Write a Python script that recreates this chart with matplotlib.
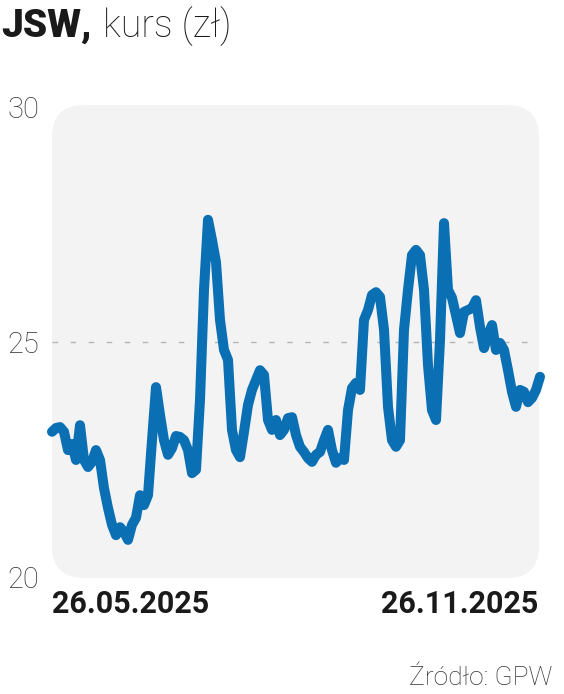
import numpy as np
import matplotlib
matplotlib.use("Agg")
import matplotlib.pyplot as plt
from matplotlib.patches import FancyBboxPatch

# kurs JSW, dzienne notowania (zl)
kurs = [23.09, 23.17, 23.19, 23.09, 22.70, 22.83, 22.49, 23.23, 22.49, 22.34,
        22.45, 22.70, 22.49, 21.89, 21.47, 21.11, 20.89, 21.06, 20.96, 20.79,
        21.11, 21.26, 21.74, 21.53, 21.74, 22.91, 24.04, 23.45, 22.91, 22.60,
        22.74, 23.00, 22.98, 22.91, 22.70, 22.21, 22.28, 23.77, 26.11, 27.60,
        27.17, 26.70, 25.47, 24.83, 24.62, 23.13, 22.70, 22.55, 23.09, 23.66,
        23.98, 24.19, 24.40, 24.30, 23.34, 23.13, 23.34, 23.02, 23.13, 23.38,
        23.40, 23.02, 22.77, 22.66, 22.53, 22.45, 22.60, 22.66, 22.91, 23.13,
        22.70, 22.43, 22.53, 22.49, 23.55, 24.02, 24.13, 23.98, 25.47, 25.68,
        26.00, 26.06, 25.96, 25.26, 23.62, 22.91, 22.77, 22.91, 25.26, 26.11,
        26.85, 26.96, 26.85, 26.11, 24.51, 23.55, 23.34, 25.04, 27.53, 26.11,
        25.94, 25.57, 25.19, 25.64, 25.68, 25.72, 25.89, 25.32, 24.87, 25.15,
        25.36, 24.83, 24.98, 24.83, 24.40, 23.94, 23.62, 23.98, 23.94, 23.72,
        23.81, 23.98, 24.26]
y_ticks = [20, 25, 30]
x_labels = ["26.05.2025", "26.11.2025"]

blue = "#0b6fb4"
fam = ["Roboto", "DejaVu Sans"]

fig = plt.figure(figsize=(5.64, 6.94), dpi=100)
fig.patch.set_facecolor("white")

ax = fig.add_axes([52 / 564, 117 / 694, 488 / 564, 470 / 694])
ax.set_facecolor("none")
for s in ax.spines.values():
    s.set_visible(False)

# szare tlo z zaokraglonymi rogami (w calach, zeby rogi byly okragle)
bg = FancyBboxPatch((0.52, 1.16), 4.87, 4.73,
                    boxstyle="round,pad=0,rounding_size=0.32",
                    transform=fig.dpi_scale_trans, facecolor="#f3f3f3",
                    edgecolor="none", zorder=0, clip_on=False)
ax.add_patch(bg)

x = np.arange(len(kurs))
ax.axhline(25, color="#b5b5b5", lw=1.0, ls=(0, (4, 9)), zorder=1)
ax.plot(x, kurs, color=blue, lw=7.2, solid_joinstyle="round",
        solid_capstyle="round", zorder=3, clip_on=False)

ax.set_xlim(0, len(kurs) - 1)
ax.set_ylim(20, 30)

ax.set_yticks(y_ticks)
ax.set_yticklabels([str(v) for v in y_ticks], family=fam,
                   fontsize=21, fontweight="light", color="#333333")
ax.tick_params(axis="y", length=0, pad=9)
ax.set_xticks([])

fig.text(52 / 564, 1 - 613 / 694, x_labels[0], family=fam, fontsize=22,
         fontweight="bold", color="#1a1a1a", ha="left", va="baseline")
fig.text(538 / 564, 1 - 613 / 694, x_labels[1], family=fam, fontsize=22,
         fontweight="bold", color="#1a1a1a", ha="right", va="baseline")

fig.text(1 / 564, 1 - 37 / 694, "JSW,", family=fam, fontsize=28,
         fontweight="black", color="#1a1a1a", va="baseline", ha="left")
fig.text(103 / 564, 1 - 37 / 694, "kurs (zł)", family=fam, fontsize=27,
         fontweight="light", color="#1a1a1a", va="baseline", ha="left")

fig.text(552 / 564, 1 - 685 / 694, "Źródło: GPW", family=fam,
         fontsize=19, fontweight="light", color="#333333",
         ha="right", va="baseline")

fig.savefig("out.png", dpi=100, facecolor="white")
